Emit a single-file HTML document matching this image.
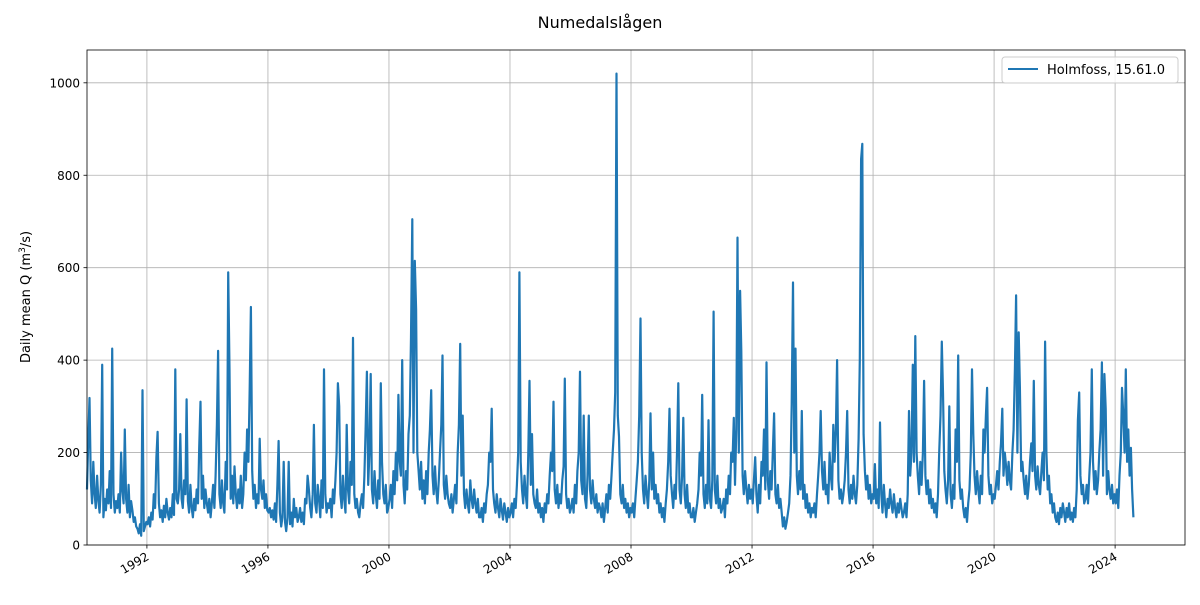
<!DOCTYPE html>
<html><head><meta charset="utf-8"><style>
body{margin:0;background:#fff}
svg{font-family:"DejaVu Sans","Liberation Sans",sans-serif}
</style></head><body>
<svg id="c" width="1200" height="600" viewBox="0 0 1200 600">
<text x="600" y="28" text-anchor="middle" font-size="16">Numedalslågen</text>
<g id="grid"></g>
<g id="series"></g>
<rect x="87" y="50" width="1098" height="495" fill="none" stroke="#000" stroke-width="0.8"/>
<g id="axes"></g>
<text transform="translate(30,297) rotate(-90)" text-anchor="middle" font-size="13">Daily mean Q (m<tspan baseline-shift="super" font-size="9">3</tspan>/s)</text>
<g>
<rect x="1002" y="57" width="176" height="26" rx="3" fill="#fff" fill-opacity="0.8" stroke="#ccc"/>
<line x1="1008" y1="69" x2="1038" y2="69" stroke="#1f77b4" stroke-width="2"/>
<text x="1047" y="74" font-size="13">Holmfoss, 15.61.0</text>
</g>
</svg>
<script>
const startYear = 1990;
const xTicks = [1992,1996,2000,2004,2008,2012,2016,2020,2024];
const yTicks = [0,200,400,600,800,1000];
const yearValues = [
[120,230,318,140,90,180,110,80,150,95,70,130,390,60,100,75,120,90,160,80,425,110,70,95],
[80,110,70,200,120,90,250,100,70,130,60,95,75,50,60,40,35,25,45,20,335,30,40,50],
[45,60,40,70,55,110,80,190,245,90,60,75,50,85,60,100,70,55,80,60,110,65,380,100],
[90,120,240,100,80,140,110,315,95,70,130,80,60,100,75,120,90,210,310,100,150,80,120,90],
[70,100,60,90,130,80,150,260,420,110,80,140,90,70,180,120,590,380,100,150,90,170,110,80],
[120,90,150,80,110,200,140,250,180,340,515,160,100,130,80,110,90,230,120,100,140,80,110,75],
[70,80,60,75,55,90,50,130,225,70,40,60,180,50,30,60,180,45,70,40,100,60,80,50],
[60,80,50,70,45,100,90,150,120,80,60,110,260,90,70,130,100,60,140,80,380,110,70,90],
[80,100,60,120,90,140,200,350,300,110,80,150,100,70,260,120,90,180,130,448,110,80,100,70],
[60,90,110,80,150,250,375,130,200,370,120,90,160,110,80,140,100,350,180,110,90,130,70,80],
[100,130,80,160,110,200,140,325,180,150,400,130,90,160,120,240,280,450,705,200,615,510,200,160],
[120,180,100,140,90,160,110,200,250,335,150,110,170,120,90,140,200,260,410,130,100,150,110,90],
[80,110,70,100,130,90,200,260,435,150,280,110,80,120,90,70,140,100,80,120,90,70,100,60],
[60,80,50,90,70,110,130,200,180,295,120,90,70,110,80,60,100,75,55,90,70,50,80,60],
[70,90,60,100,80,130,200,590,180,120,90,150,110,80,200,355,130,240,110,90,80,120,70,90],
[60,80,50,90,70,110,90,150,200,160,310,120,90,130,80,110,90,140,170,360,110,80,100,70],
[80,100,70,130,90,160,200,375,140,110,280,100,80,150,280,120,90,140,100,80,110,70,90,80],
[60,90,50,80,110,70,130,100,150,200,250,330,1020,280,235,110,90,130,80,100,70,90,60,80],
[70,90,60,100,140,180,280,490,200,120,90,150,110,80,140,285,120,200,100,130,90,110,70,90],
[60,80,50,90,120,180,295,150,110,80,130,100,200,350,120,90,150,275,110,80,130,70,90,60],
[60,80,50,70,90,120,200,150,325,110,80,130,90,270,100,80,140,505,120,90,150,80,100,70],
[80,100,60,120,90,150,110,200,180,275,130,250,665,200,550,420,150,110,160,120,90,130,100,120],
[90,140,190,110,70,130,90,180,150,250,120,395,140,100,160,120,200,285,110,90,130,80,100,70],
[40,60,35,50,70,90,150,305,568,200,425,150,110,160,120,290,100,130,80,110,70,90,60,80],
[70,90,60,110,150,200,290,160,120,180,110,130,90,200,150,120,260,180,250,400,140,100,120,90],
[110,140,200,290,120,90,130,100,150,110,90,130,230,400,835,868,240,160,120,150,100,130,90,110],
[100,175,90,120,80,265,110,70,130,90,60,100,80,120,90,70,110,80,60,90,70,100,80,60],
[70,90,60,110,290,150,200,390,180,452,200,150,110,180,130,200,355,150,110,140,90,120,80,100],
[70,90,60,110,200,280,440,330,160,120,90,140,300,110,80,130,100,250,180,410,140,100,120,80],
[60,80,50,90,120,200,380,240,150,110,160,120,90,150,110,250,200,280,340,150,110,130,90,110],
[100,130,160,120,180,220,295,150,200,170,130,180,140,120,200,250,380,540,200,460,340,160,180,140],
[110,150,100,130,180,220,160,355,150,120,170,130,110,160,200,140,440,200,120,150,90,110,70,90],
[60,50,70,45,80,60,90,70,50,80,60,90,55,70,50,80,60,120,270,330,150,110,130,90],
[100,130,90,150,200,380,180,120,160,110,140,200,250,395,150,370,295,110,160,120,100,130,90,110],
[90,120,80,150,200,340,280,200,380,180,250,150,210,120,60]
];
const NS="http://www.w3.org/2000/svg";
const X0=87,X1=1185,Y0=545,Y1=50,D0=1990.02,D1=2026.31,V1=1071;
function xs(t){return X0+(t-D0)/(D1-D0)*(X1-X0);}
function ys(v){return Y0-v/V1*(Y0-Y1);}
function mk(tag,attrs,parent){const e=document.createElementNS(NS,tag);for(const k in attrs)e.setAttribute(k,attrs[k]);parent.appendChild(e);return e;}
const grid=document.getElementById('grid'),axes=document.getElementById('axes'),ser=document.getElementById('series');
xTicks.forEach(t=>{const x=xs(t);
 const g=mk('line',{x1:x,x2:x,y1:Y1,y2:Y0,stroke:'#b0b0b0','stroke-width':0.8},grid);
 
 
 mk('line',{x1:x,x2:x,y1:Y0,y2:Y0+3.5,stroke:'#000','stroke-width':0.8},axes);
 const tx=mk('text',{x:x+3,y:Y0+14,'text-anchor':'end','font-size':12,transform:`rotate(-30 ${x+3} ${Y0+14})`},axes);
 tx.textContent=t;
 
 
});
yTicks.forEach(v=>{const y=ys(v);
 const g=mk('line',{x1:X0,x2:X1,y1:y,y2:y,stroke:'#b0b0b0','stroke-width':0.8},grid);
 
 
 mk('line',{x1:X0-3.5,x2:X0,y1:y,y2:y,stroke:'#000','stroke-width':0.8},axes);
 const tx=mk('text',{x:X0-7,y:y+4.5,'text-anchor':'end','font-size':12},axes);
 tx.textContent=v;
 
 
});
let pts=[];
yearValues.forEach((arr,i)=>{arr.forEach((v,j)=>{const t=startYear+i+(j+0.5)/24;pts.push(xs(t).toFixed(1)+','+ys(v).toFixed(1));});});
const p=mk('polyline',{points:pts.join(' '),fill:'none',stroke:'#1f77b4','stroke-width':2.2,'stroke-linejoin':'round'},ser);


</script>
</body></html>
